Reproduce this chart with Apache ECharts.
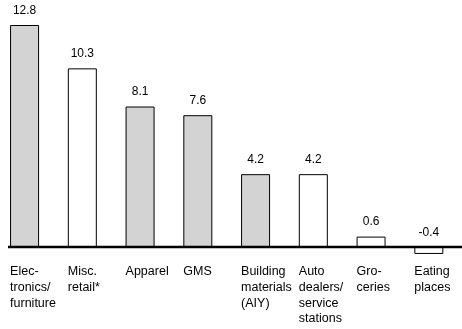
<!DOCTYPE html>
<html>
<head>
<meta charset="utf-8">
<script src="https://cdn.jsdelivr.net/npm/echarts@6/dist/echarts.min.js"></script>
<style>
  html, body { margin: 0; padding: 0; background: #fff; }
  #chart { width: 462px; height: 329px; }
</style>
</head>
<body>
<div id="chart"></div>
<script>
// Retail segments and their growth values
const categories = [
  'Elec-\ntronics/\nfurniture',
  'Misc.\nretail*',
  'Apparel',
  'GMS',
  'Building\nmaterials\n(AIY)',
  'Auto\ndealers/\nservice\nstations',
  'Gro-\nceries',
  'Eating\nplaces'
];
const values = [12.8, 10.3, 8.1, 7.6, 4.2, 4.2, 0.6, -0.4];
const shaded = [true, false, true, true, true, false, false, false];

const GRAY = '#d3d3d3';
const FONT = 'Liberation Sans, Arial, sans-serif';
const Y_MIN = -2;
const Y_MAX = 14;

const chart = echarts.init(document.getElementById('chart'), null, { renderer: 'canvas' });

const seriesData = values.map((v, i) => ({
  value: v,
  itemStyle: { color: shaded[i] ? GRAY : '#ffffff', borderColor: '#000', borderWidth: 1 }
}));

chart.setOption({
  animation: false,
  backgroundColor: '#ffffff',
  grid: {
    left: -4.3, width: 462, top: 4.2, bottom: 47.3,
    containLabel: false,
    outerBoundsMode: 'none'
  },
  xAxis: {
    type: 'category',
    data: categories,
    axisLine: { show: false },
    axisTick: { show: false },
    axisLabel: {
      interval: 0,
      margin: 17,
      align: 'left',
      padding: [0, 0, 0, -14.5],
      fontFamily: FONT,
      fontSize: 12.5,
      lineHeight: 15.7,
      color: '#000'
    }
  },
  yAxis: {
    type: 'value',
    min: Y_MIN,
    max: Y_MAX,
    show: false,
    splitLine: { show: false }
  },
  series: [{
    type: 'bar',
    barWidth: 29,
    data: seriesData,
    label: {
      show: true,
      position: 'top',
      distance: 8.5,
      fontFamily: FONT,
      fontSize: 12,
      color: '#000',
      formatter: p => p.value.toFixed(1)
    }
  }]
});

// Move the category labels up to the zero line and draw the baseline there
const zeroY = chart.convertToPixel({ yAxisIndex: 0 }, 0);
const bottomY = chart.convertToPixel({ yAxisIndex: 0 }, Y_MIN);
chart.setOption({
  xAxis: { offset: zeroY - bottomY },
  graphic: [{
    type: 'line',
    shape: { x1: 8, y1: zeroY, x2: 462, y2: zeroY },
    style: { stroke: '#000', lineWidth: 2.5 },
    z: 10
  }]
});
</script>
</body>
</html>
